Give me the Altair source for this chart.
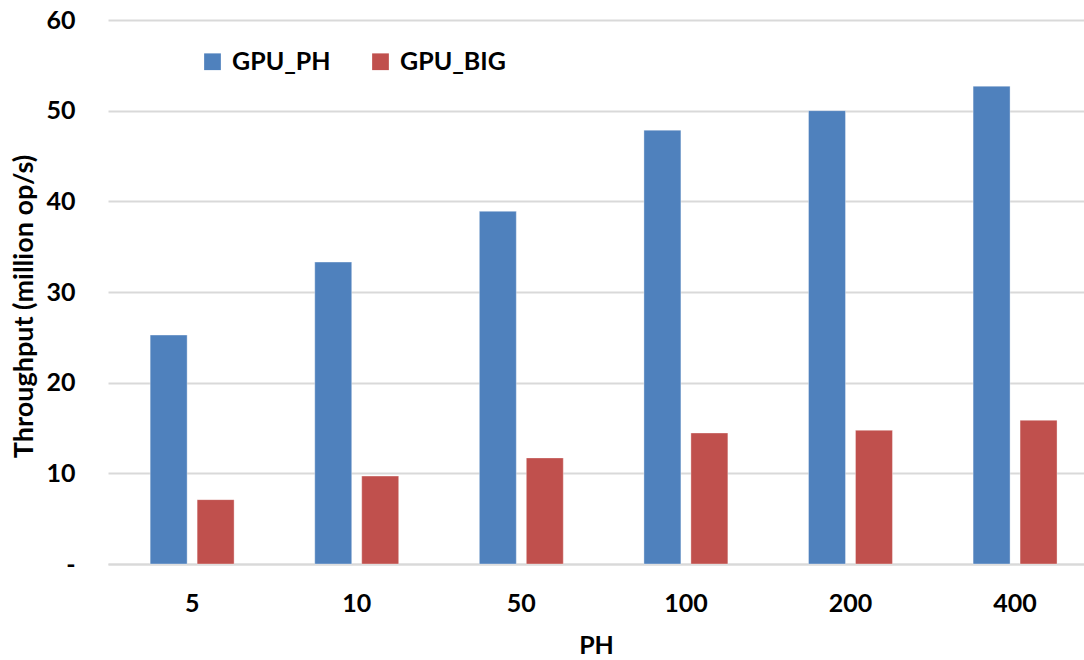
import altair as alt
import pandas as pd

# Throughput per PH setting for the two GPU variants
ph_values = ["5", "10", "50", "100", "200", "400"]
gpu_ph = [25.25, 33.3, 38.9, 47.85, 50.0, 52.7]
gpu_big = [7.1, 9.7, 11.7, 14.45, 14.75, 15.85]
series = ["GPU_PH", "GPU_BIG"]
colors = ["#4F81BD", "#C0504D"]

rows = []
for i, ph in enumerate(ph_values):
    rows.append({"PH": ph, "series": series[0], "value": gpu_ph[i]})
    rows.append({"PH": ph, "series": series[1], "value": gpu_big[i]})
df = pd.DataFrame(rows)

FONT = "Lato"
TXT = 25

chart = (
    alt.Chart(df)
    .mark_bar(strokeWidth=1, strokeOpacity=0.35, stroke="white")
    .encode(
        x=alt.X(
            "PH:N",
            sort=ph_values,
            title="PH",
            scale=alt.Scale(paddingInner=0.49, paddingOuter=0.21, align=0.61),
            axis=alt.Axis(
                labelAngle=0,
                labelFontSize=TXT,
                labelFontWeight="bold",
                labelColor="#000000",
                labelPadding=27,
                ticks=False,
                domain=True,
                domainColor="#D9D9D9",
                domainWidth=2,
                titleFontSize=TXT,
                titleFontWeight="bold",
                titleColor="#000000",
                titlePadding=17,
            ),
        ),
        xOffset=alt.XOffset(
            "series:N",
            sort=series,
            scale=alt.Scale(paddingInner=0.213, paddingOuter=0),
        ),
        y=alt.Y(
            "value:Q",
            title="Throughput (million op/s)",
            scale=alt.Scale(domain=[0, 60], nice=False),
            axis=alt.Axis(
                values=[0, 10, 20, 30, 40, 50, 60],
                labelExpr="datum.value == 0 ? '-' : datum.label",
                labelFontSize=TXT,
                labelFontWeight="bold",
                labelColor="#000000",
                labelPadding=33,
                ticks=False,
                domain=False,
                grid=True,
                gridColor="#D9D9D9",
                gridWidth=2,
                titleFontSize=27,
                titleFontWeight="bold",
                titleColor="#000000",
                titlePadding=7,
                titleY=286,
            ),
        ),
        color=alt.Color(
            "series:N",
            sort=series,
            scale=alt.Scale(domain=series, range=colors),
            legend=alt.Legend(
                title=None,
                orient="none",
                legendX=92,
                legendY=29,
                direction="horizontal",
                symbolType="square",
                symbolSize=280,
                symbolStrokeWidth=0,
                labelFontSize=TXT,
                labelFontWeight="bold",
                labelColor="#000000",
                labelOffset=7,
                columnPadding=37,
            ),
        ),
    )
    .properties(
        width=976,
        height=544,
        autosize=alt.AutoSizeParams(type="none"),
        padding={"left": 108, "top": 20, "right": 0, "bottom": 96},
    )
    .configure(font=FONT)
    .configure_view(stroke=None)
)

chart.save("out.html", embed_options={"renderer": "svg", "actions": False})
